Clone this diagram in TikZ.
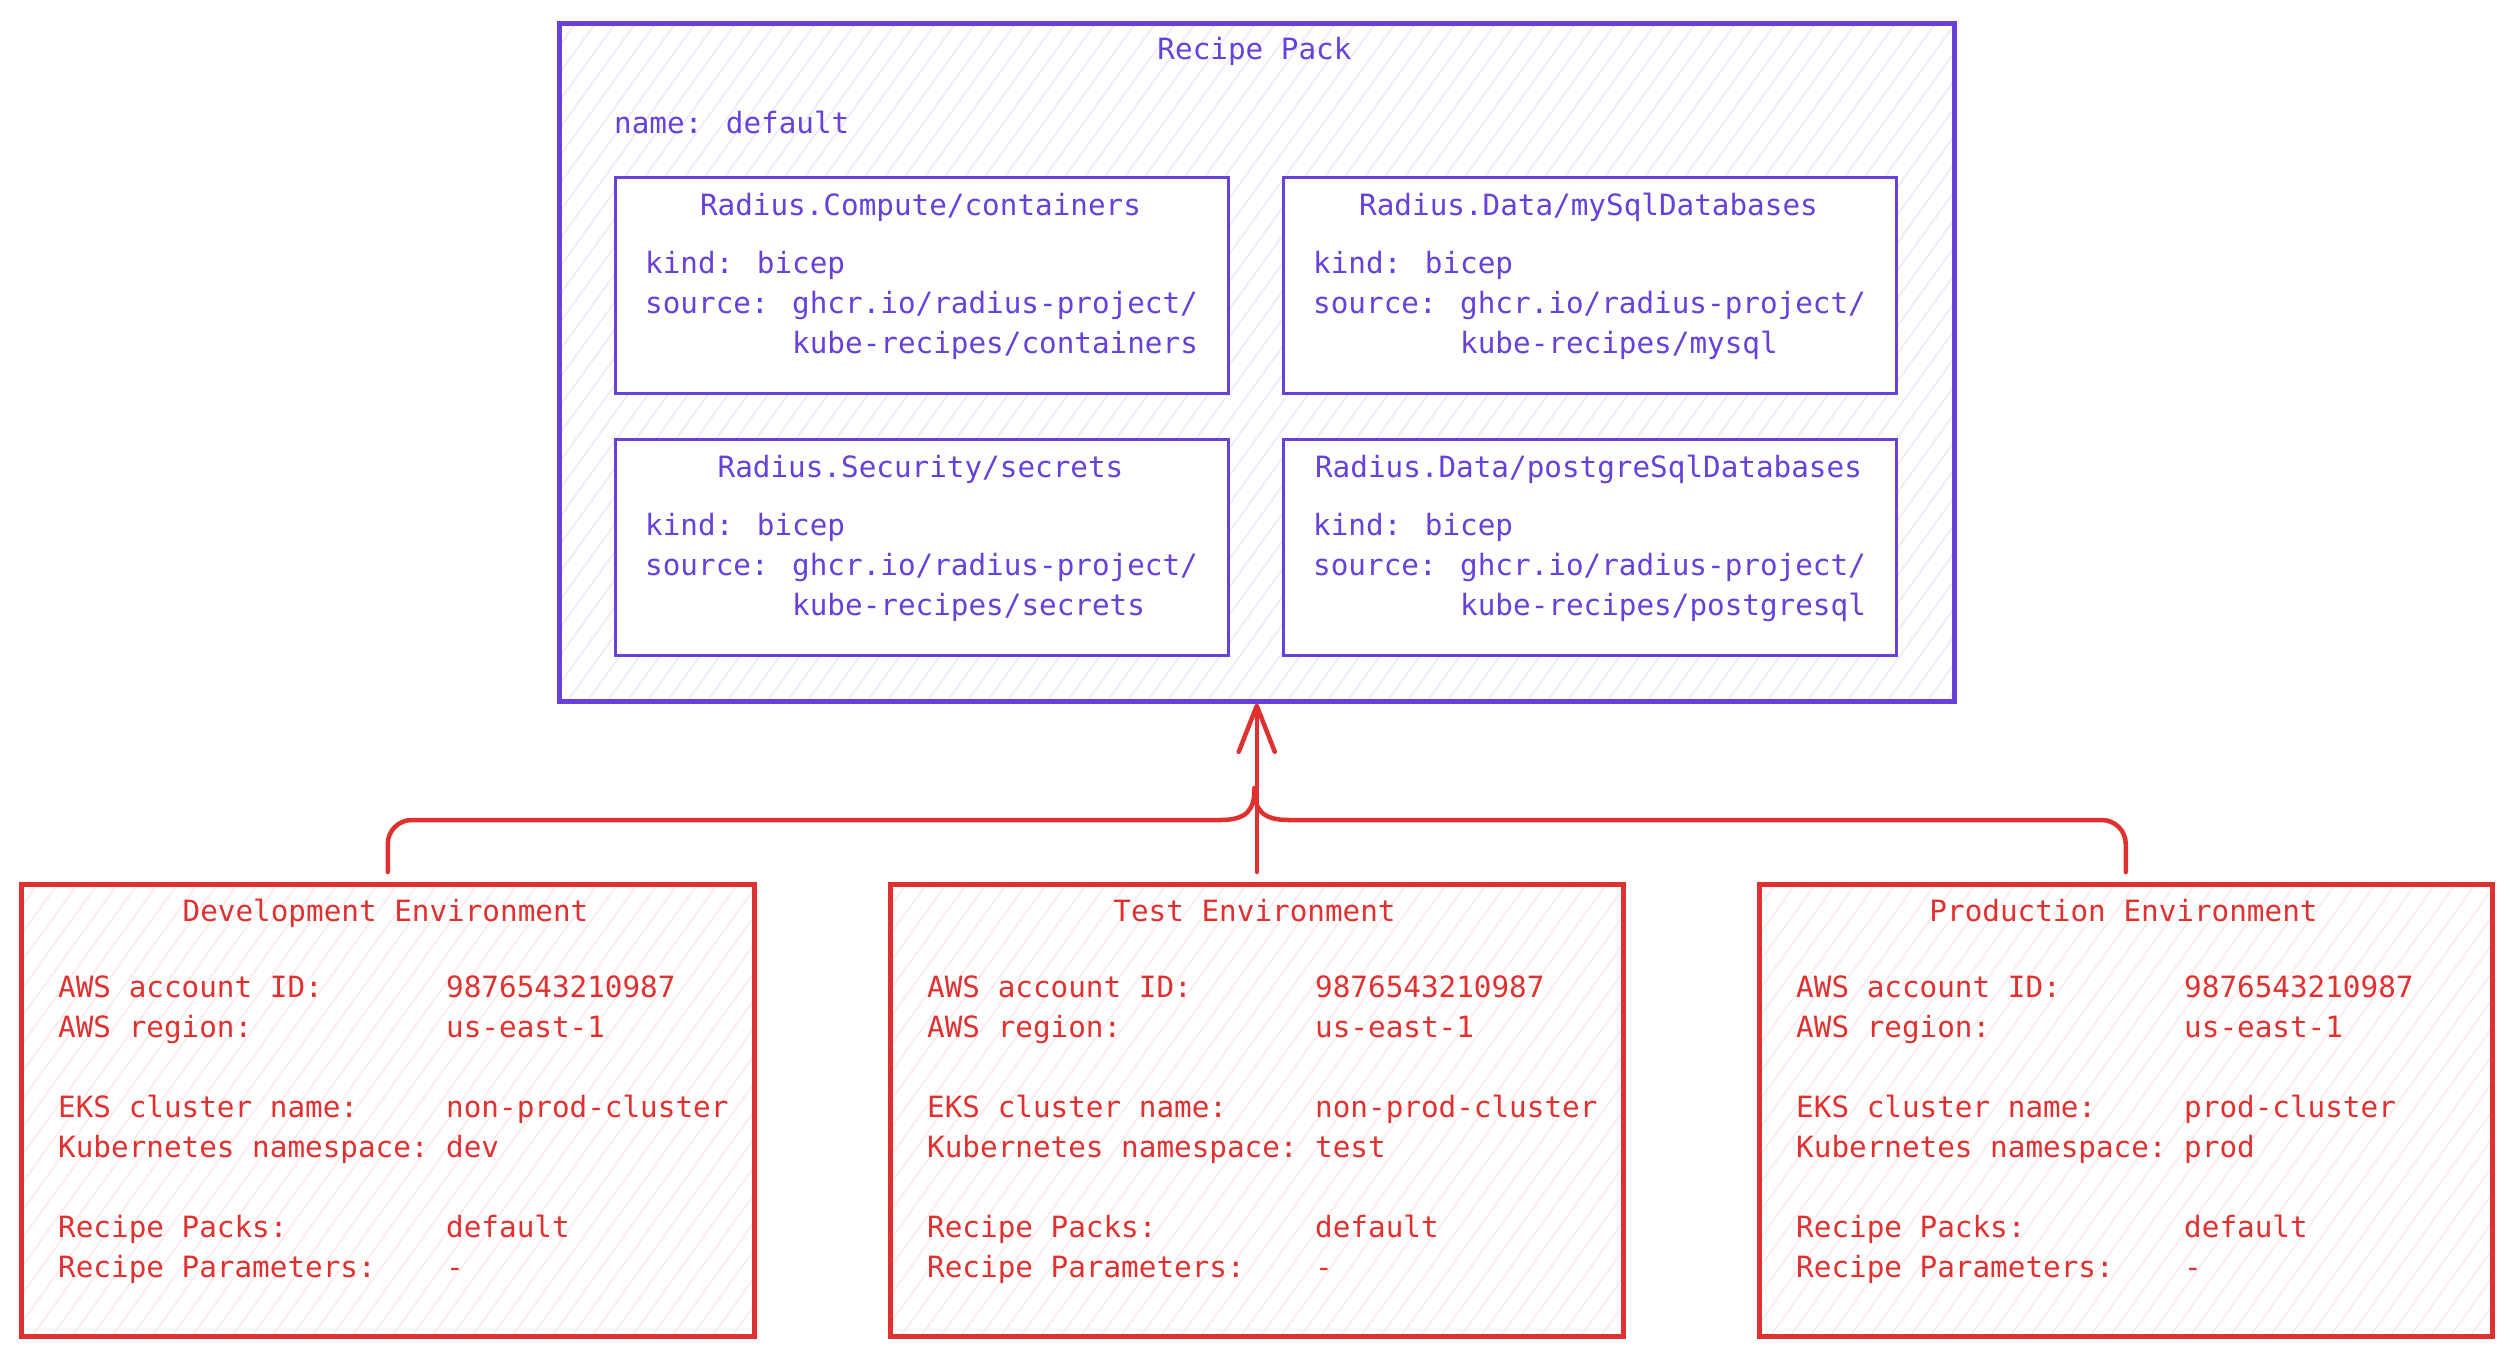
\documentclass[tikz,border=0pt]{standalone}
\usepackage{fontspec}
\newfontfamily\mono{DejaVu Sans Mono}
\usetikzlibrary{arrows.meta}
\definecolor{vio}{HTML}{6741D9}
\definecolor{rd}{HTML}{E03131}
\definecolor{viohatch}{HTML}{EDE9FB}
\definecolor{rdhatch}{HTML}{FDEAEA}
\newcommand\bodyfont{\mono\fontsize{29.3}{40}\selectfont}
\newcommand\hatchrect[5]{%
  \begin{scope}
    \clip (#1,#2) rectangle (#3,#4);
    \pgfmathsetmacro\hhh{#4-#2}
    \pgfmathsetmacro\hdx{0.72*\hhh}
    \pgfmathtruncatemacro\hnn{(#3-#1+\hdx)/20+1}
    \foreach \k in {0,...,\hnn} {\draw[#5, line width=1.6pt] ({#1-\hdx+\k*20},#4) -- ++(\hdx,-\hhh);}
  \end{scope}}
\newcommand\rbox[5]{%
  \node[subbox, anchor=north west] (#1) at (#2,#3) {};
  \node[vtxt, anchor=base] (#1-t) at (#2+306.5,#3+39) {#4};
  \node[vtxt] (#1-k) at (#2+31,#3+97) {kind: bicep};
  \node[vtxt] (#1-s) at (#2+31,#3+137) {source: ghcr.io/radius-project/};
  \node[vtxt] (#1-p) at (#2+31,#3+177) {\hphantom{source: }kube-recipes/#5};}
\newcommand\envbox[5]{%
  \hatchrect{#2}{882}{#2+733}{1334}{rdhatch}
  \node[envframe, anchor=north west] (#1) at (#2,882) {};
  \node[rtxt, anchor=base] (#1-t) at (#2+366.5,921) {#3};
  \node[rtxt] (#1-a) at (#2+39,997) {AWS account ID:};
  \node[rtxt] (#1-av) at (#2+427,997) {9876543210987};
  \node[rtxt] (#1-r) at (#2+39,1037) {AWS region:};
  \node[rtxt] (#1-rv) at (#2+427,1037) {us-east-1};
  \node[rtxt] (#1-e) at (#2+39,1117) {EKS cluster name:};
  \node[rtxt] (#1-ev) at (#2+427,1117) {#4};
  \node[rtxt] (#1-n) at (#2+39,1157) {Kubernetes namespace:};
  \node[rtxt] (#1-nv) at (#2+427,1157) {#5};
  \node[rtxt] (#1-p) at (#2+39,1237) {Recipe Packs:};
  \node[rtxt] (#1-pv) at (#2+427,1237) {default};
  \node[rtxt] (#1-q) at (#2+39,1277) {Recipe Parameters:};
  \node[rtxt] (#1-qv) at (#2+427,1277) {-};}
\begin{document}
\begin{tikzpicture}[x=1pt,y=-1pt,
  vtxt/.style={inner sep=0pt, anchor=base west, font=\bodyfont, text=vio},
  rtxt/.style={inner sep=0pt, anchor=base west, font=\bodyfont, text=rd},
  subbox/.style={draw=vio, fill=white, line width=2.6pt, inner sep=0pt, minimum width=613pt, minimum height=216pt},
  packframe/.style={draw=vio, line width=4.5pt, inner sep=0pt, minimum width=1395pt, minimum height=678pt},
  envframe/.style={draw=rd, line width=4.5pt, inner sep=0pt, minimum width=733pt, minimum height=452pt},
  conn/.style={draw=rd, line width=4.5pt, line cap=round, line join=round}]
\useasboundingbox (0,0) rectangle (2510,1355);
\fill[white] (0,0) rectangle (2510,1355);
% recipe pack
\hatchrect{557}{21}{1952}{699}{viohatch}
\node[packframe, anchor=north west] (rp) at (557,21) {};
\node[vtxt, anchor=base] (rp-t) at (1254.5,59) {Recipe Pack};
\node[vtxt] (rp-n) at (614,133) {name: default};
\rbox{c1}{614}{176}{Radius.Compute/containers}{containers}
\rbox{c2}{1282}{176}{Radius.Data/mySqlDatabases}{mysql}
\rbox{c3}{614}{438}{Radius.Security/secrets}{secrets}
\rbox{c4}{1282}{438}{Radius.Data/postgreSqlDatabases}{postgresql}
% environments
\envbox{dev}{19}{Development Environment}{non-prod-cluster}{dev}
\envbox{test}{888}{Test Environment}{non-prod-cluster}{test}
\envbox{prod}{1757}{Production Environment}{prod-cluster}{prod}
% connectors
\coordinate (jn) at (1254.5,788);
\coordinate (hl) at (1220,820);
\coordinate (hr) at (1289,820);
\draw[conn, -{Straight Barb[length=46pt,width=36pt,round]}] ([yshift=10pt]test.north) -- (rp.south);
\draw[conn, rounded corners=24pt] ([yshift=10pt]dev.north) |- (hl);
\draw[conn] (hl) .. controls (1247,820) and (1254.5,810) .. (jn);
\draw[conn, rounded corners=24pt] ([yshift=10pt]prod.north) |- (hr);
\draw[conn] (hr) .. controls (1262,820) and (1254.5,810) .. (jn);
\end{tikzpicture}
\end{document}
